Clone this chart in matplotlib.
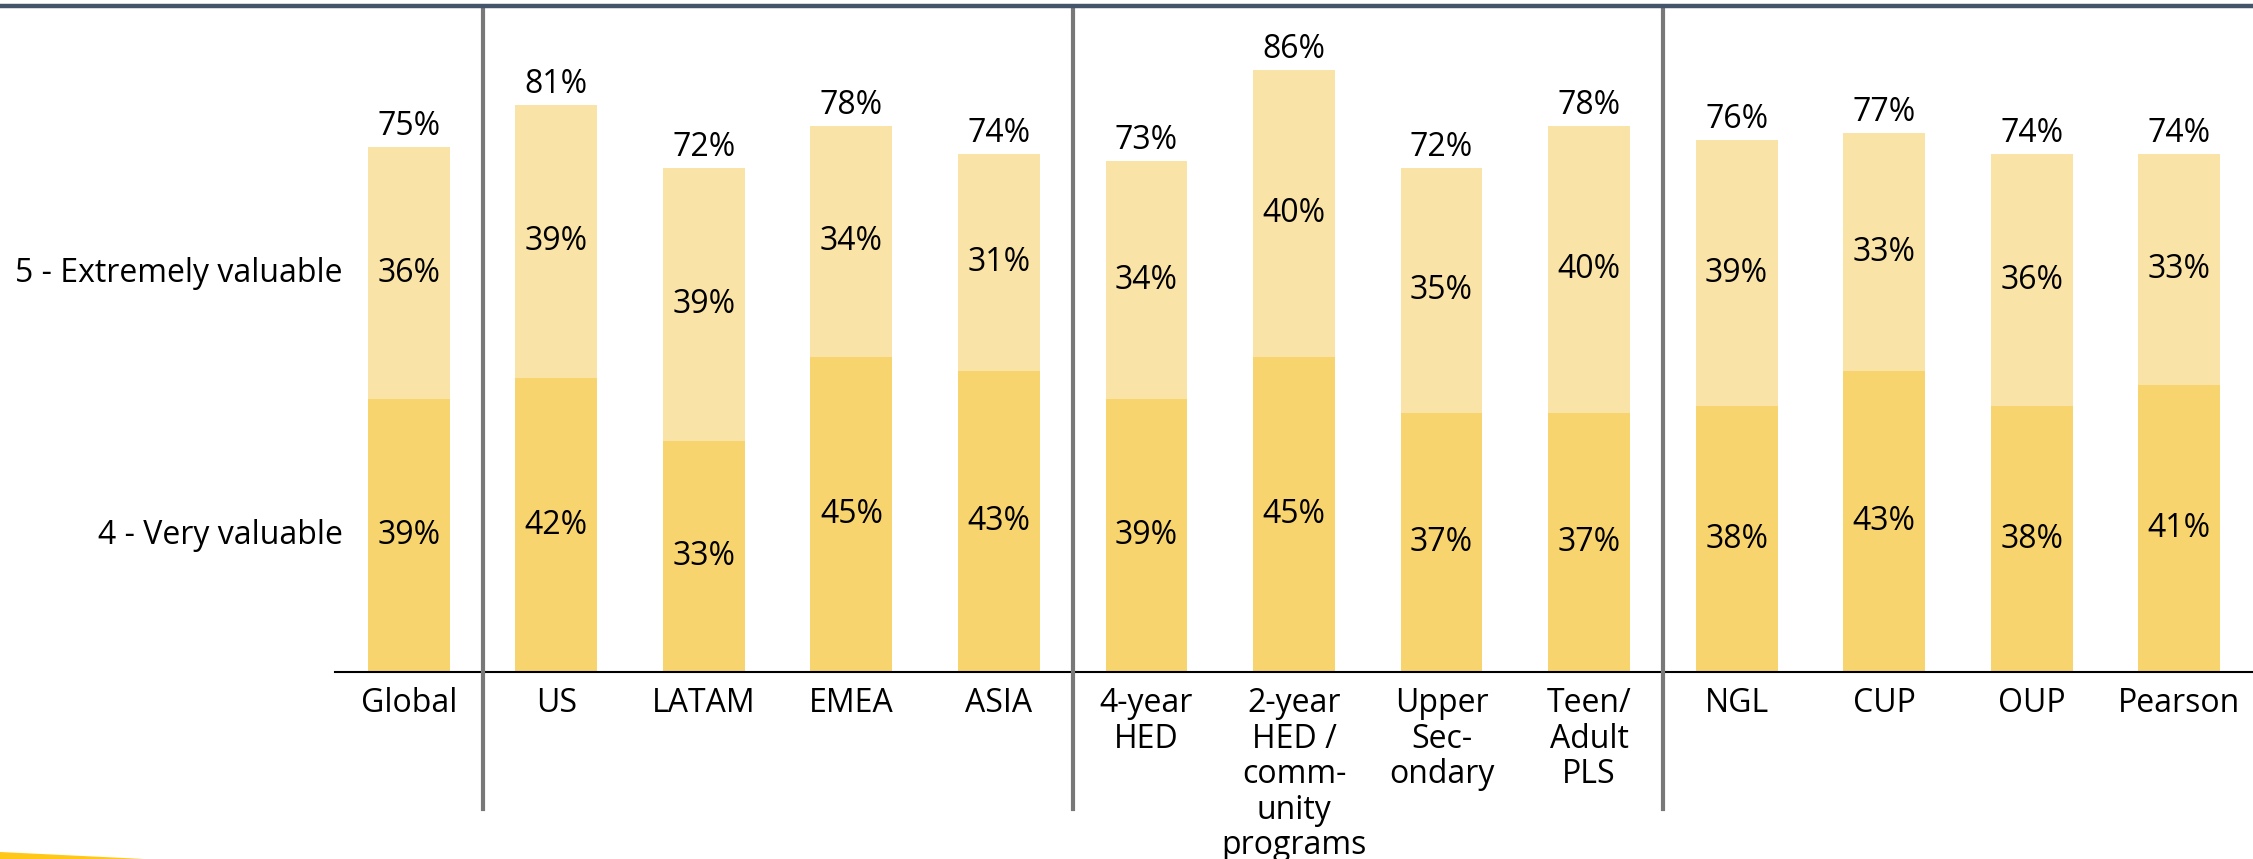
import matplotlib.pyplot as plt
from matplotlib.patches import Polygon
from matplotlib.lines import Line2D

plt.rcParams["font.family"] = ["Open Sans", "DejaVu Sans"]

# ───────── data ─────────
categories = ["Global", "US", "LATAM", "EMEA", "ASIA",
              "4-year\nHED", "2-year\nHED /\ncomm-\nunity\nprograms",
              "Upper\nSec-\nondary", "Teen/\nAdult\nPLS",
              "NGL", "CUP", "OUP", "Pearson"]
very_valuable = [39, 42, 33, 45, 43, 39, 45, 37, 37, 38, 43, 38, 41]
extremely_valuable = [36, 39, 39, 34, 31, 34, 40, 35, 40, 39, 33, 36, 33]
totals = [75, 81, 72, 78, 74, 73, 86, 72, 78, 76, 77, 74, 74]
row_labels = ["4 - Very valuable", "5 - Extremely valuable"]
group_breaks = [0.5, 4.5, 8.5]

DARK = "#F7D46E"
LIGHT = "#F9E3A6"
FS = 23

fig = plt.figure(figsize=(22.53, 8.59), dpi=100)
ax = fig.add_axes([0.1487, 0.2177, 0.8513, 0.99 - 0.2177])

x = list(range(len(categories)))
w = 0.555
top_part = [t - v for t, v in zip(totals, very_valuable)]

ax.bar(x, very_valuable, width=w, color=DARK, zorder=2)
ax.bar(x, top_part, bottom=very_valuable, width=w, color=LIGHT, zorder=2)

for i in x:
    v = very_valuable[i]
    e = extremely_valuable[i]
    t = totals[i]
    ax.text(i, v / 2, f"{v}%", ha="center", va="center", fontsize=FS)
    ax.text(i, v + (t - v) / 2, f"{e}%", ha="center", va="center", fontsize=FS)
    ax.annotate(f"{t}%", (i, t), xytext=(0, 9), textcoords="offset points",
                ha="center", va="baseline", fontsize=FS)

# row labels on the left, next to the Global segments
ax.text(-0.45, very_valuable[0] / 2, row_labels[0], ha="right", va="center", fontsize=FS)
ax.text(-0.45, very_valuable[0] + top_part[0] / 2, row_labels[1],
        ha="right", va="center", fontsize=FS)

# group separators
for b in group_breaks:
    ax.axvline(b, ymin=-0.2065, ymax=1.0, color="#787878", lw=3.0,
               clip_on=False, zorder=3)

ax.set_xlim(-0.5, 12.5)
ax.set_ylim(0, 94.8)
ax.set_xticks(x)
ax.set_xticklabels(categories, fontsize=FS, linespacing=1.1, va="top")
ax.tick_params(axis="x", length=0, pad=11)
ax.set_yticks([])
for s in ["top", "left", "right"]:
    ax.spines[s].set_visible(False)
ax.spines["bottom"].set_color("black")
ax.spines["bottom"].set_linewidth(1.5)

# top rule and corner accent
fig.add_artist(Line2D([0, 1], [1 - 6 / 859, 1 - 6 / 859], transform=fig.transFigure,
                      color="#44546A", lw=3.2))
fig.add_artist(Polygon([(0, 0), (0, 7 / 859), (0.064, 0)], closed=True,
                       transform=fig.transFigure, color="#FFC718", lw=0))

fig.savefig("out.png", dpi=100)
